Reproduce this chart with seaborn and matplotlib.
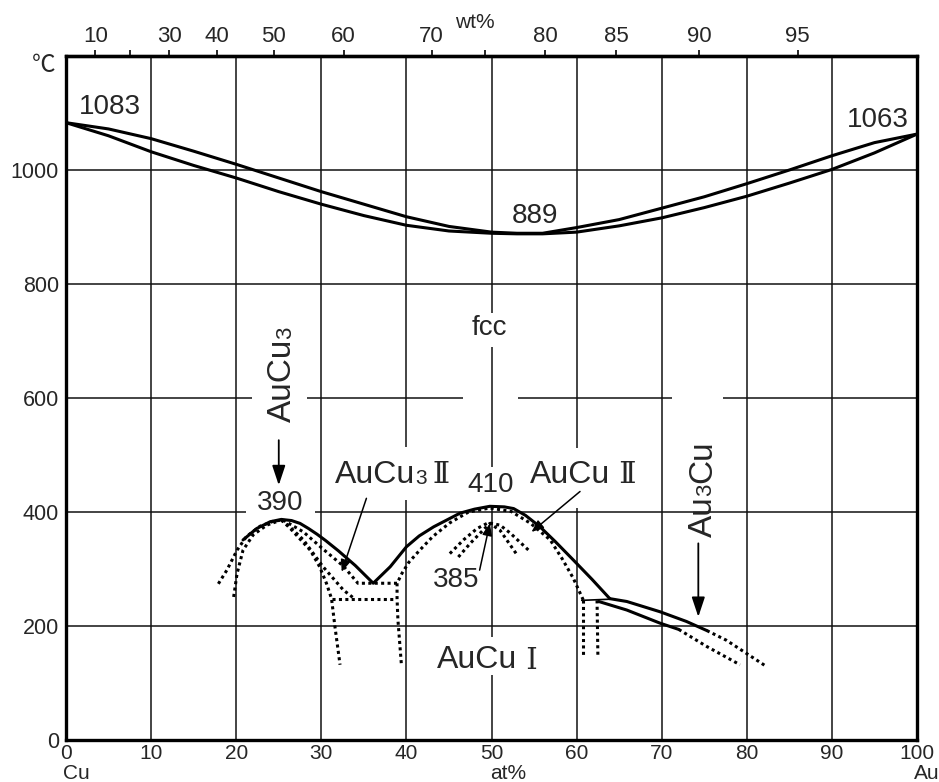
import numpy as np
import matplotlib.pyplot as plt
import seaborn as sns

# Au-Cu phase diagram, x = at% Au, y = temperature (C)
liq_x = [0, 5, 10, 15, 20, 25, 30, 35, 40, 45, 50, 53, 56, 60, 65, 70, 75, 80, 85, 90, 95, 100]
liq_t = [1083, 1072, 1055, 1033, 1010, 986, 962, 940, 918, 901, 891, 889, 889, 899, 913, 933, 953, 976, 1000, 1025, 1048, 1063]
sol_x = [0, 5, 10, 15, 20, 25, 30, 35, 40, 45, 50, 53, 56, 60, 65, 70, 75, 80, 85, 90, 95, 100]
sol_t = [1083, 1060, 1032, 1008, 986, 962, 940, 920, 903, 893, 889, 888, 888, 891, 902, 916, 934, 954, 977, 1001, 1030, 1063]

# ordering boundary (solid), AuCu3 dome + AuCu dome
ord_x = [20.8, 22.4, 24.0, 25.3, 26.5, 27.5, 28.5, 29.5, 30.5, 32.0, 34.0, 36.1, 38.1, 40.0, 41.5, 43.2, 46.3, 48.0, 49.8, 51.5, 52.6, 54.0, 55.7, 57.5, 59.6, 61.8, 63.9]
ord_t = [351, 371, 383, 387, 385, 380, 371, 361, 350, 332, 306, 275, 304, 339, 358, 374, 398, 405, 410, 409, 406, 394, 374, 348, 316, 282, 248]

# Au3Cu boundaries (solid part + dotted extension)
au3cu_up_x = [63.9, 65.9, 69.8, 72.9, 75.3]
au3cu_up_t = [248, 243, 225, 208, 192]
au3cu_up_dot_x = [75.3, 77.6, 82.3]
au3cu_up_dot_t = [192, 175, 129]
au3cu_lo_x = [62.6, 65.9, 69.8, 72.0]
au3cu_lo_t = [243, 228, 205, 194]
au3cu_lo_dot_x = [72.0, 75.3, 79.2]
au3cu_lo_dot_t = [194, 164, 132]
tie_x = [60.6, 63.9]
tie_t = [245, 247]

# dotted phase boundaries
dots = {
    "d1": ([17.9, 18.9, 20.1, 21.2, 22.8, 24.4, 25.5],
           [274, 298, 333, 357, 375, 384, 386]),
    "d2": ([19.7, 20.1, 20.8, 22.0, 23.6, 25.1],
           [251, 292, 333, 360, 377, 385]),
    "r1": ([25.5, 27.9, 30.2, 32.6, 34.3, 38.9, 39.5, 40.3, 41.5, 43.1, 45.1, 47.3, 49.8, 52.3, 54.6, 56.9, 58.3, 59.6, 60.8],
           [386, 365, 335, 305, 275, 275, 293, 312, 332, 357, 381, 400, 407, 401, 380, 351, 318, 284, 245]),
    "rb": ([25.3, 26.3, 27.9, 30.2, 32.6, 33.8],
           [386, 374, 351, 304, 263, 249]),
    "rc": ([25.3, 26.3, 28.7, 29.8, 30.6, 31.2, 31.6, 32.2],
           [386, 372, 333, 304, 275, 248, 199, 132]),
    "h248": ([31.2, 38.8], [248, 248]),
    "v39": ([38.9, 38.9, 39.0, 39.4], [275, 248, 211, 134]),
    "arcA": ([45.1, 46.7, 48.3, 49.6, 51.0, 52.2, 54.5],
             [327, 351, 371, 381, 377, 363, 331]),
    "arcB": ([46.1, 47.5, 49.0, 49.8, 51.0, 52.9],
             [321, 345, 368, 380, 368, 327]),
    "v61": ([60.8, 60.8], [245, 146]),
    "v62": ([62.4, 62.5], [245, 146]),
}

wt_ticks = [10, 20, 30, 40, 50, 60, 70, 75, 80, 85, 90, 95]
wt_labels = ["10", "", "30", "40", "50", "60", "70", "", "80", "85", "90", "95"]
at_ticks = list(range(0, 101, 10))
t_ticks = list(range(0, 1001, 200))

sns.set_style("white")
plt.rcParams["font.family"] = ["Liberation Sans", "Noto Sans CJK JP"]
SANS = ["Liberation Sans", "Noto Sans CJK JP"]
ROMAN = ["DejaVu Serif"]

fig = plt.figure(figsize=(9.39, 7.82), dpi=100)
ax = fig.add_axes([0.0703, 0.0537, 0.9063, 0.8747])
ax.set_xlim(0, 100)
ax.set_ylim(0, 1200)


def pieces(lo, hi, gaps):
    segs, start = [], lo
    for a, b in sorted(gaps):
        segs.append((start, a))
        start = b
    segs.append((start, hi))
    return segs


# grid with gaps left around labels
hgaps = {400: [(21.2, 29.3)], 600: [(21.8, 28.3), (46.6, 53.1), (71.2, 77.2)]}
vgaps = {40: [(421, 514)], 50: [(114, 181), (412, 479), (689, 749)], 60: [(407, 512)]}
for yv in [200, 400, 600, 800, 1000]:
    for a, b in pieces(0, 100, hgaps.get(yv, [])):
        ax.hlines(yv, a, b, color="#111111", lw=1.1, zorder=1)
for xv in range(10, 100, 10):
    for a, b in pieces(0, 1200, vgaps.get(xv, [])):
        ax.vlines(xv, a, b, color="#111111", lw=1.1, zorder=1)


def curve(xs, ts, dotted=False, lw=2.2):
    kw = dict(linestyle=(0, (1, 1.1)), dash_capstyle="butt") if dotted else dict(linestyle="-")
    sns.lineplot(x=xs, y=ts, sort=False, estimator=None, color="black", lw=lw,
                 ax=ax, zorder=3, **kw)


curve(liq_x, liq_t)
curve(sol_x, sol_t)
curve(ord_x, ord_t)
curve(au3cu_up_x, au3cu_up_t)
curve(au3cu_lo_x, au3cu_lo_t)
curve(au3cu_up_dot_x, au3cu_up_dot_t, dotted=True)
curve(au3cu_lo_dot_x, au3cu_lo_dot_t, dotted=True)
curve(tie_x, tie_t, lw=1.2)
for xs, ts in dots.values():
    curve(xs, ts, dotted=True)

# axes styling
for s in ax.spines.values():
    s.set_linewidth(2.4)
    s.set_color("black")
ax.set_xticks(at_ticks)
ax.set_yticks(t_ticks)
ax.tick_params(axis="x", length=0, pad=3, labelsize=15)
ax.tick_params(axis="y", length=0, pad=5, labelsize=15.5)


def wt2at(w):
    w = np.asarray(w, float)
    a, c = w / 196.97, (100 - w) / 63.55
    return 100 * a / np.maximum(a + c, 1e-9)


def at2wt(x):
    x = np.asarray(x, float)
    a, c = x * 196.97, (100 - x) * 63.55
    return 100 * a / np.maximum(a + c, 1e-9)


sec = ax.secondary_xaxis("top", functions=(at2wt, wt2at))
sec.set_xticks(wt_ticks, labels=wt_labels)
sec.tick_params(direction="out", length=4.5, width=1.4, labelsize=16, pad=2)
sec.spines["top"].set_linewidth(2.4)

ax.text(48.0, 1258, "wt%", fontsize=15, ha="center", va="center", clip_on=False)
ax.text(-2.6, 1182, "℃", fontsize=17, ha="center", va="center", clip_on=False)
ax.text(-0.3, -58, "Cu", fontsize=15, ha="left", va="center", clip_on=False)
ax.text(51.9, -58, "at%", fontsize=15, ha="center", va="center", clip_on=False)
ax.text(102.6, -58, "Au", fontsize=15, ha="right", va="center", clip_on=False)

for x, y, s in [(5.1, 1111, "1083"), (95.4, 1087, "1063"), (55.1, 919, "889"),
                (49.7, 723, "fcc"), (25.2, 416, "390"), (49.9, 447, "410"),
                (45.8, 281, "385")]:
    ax.text(x, y, s, fontsize=20, ha="center", va="center")


def chem(x, y, parts, rot=0, **kw):
    s, fs, fam = parts[0]
    t = ax.text(x, y, s, fontsize=fs, rotation=rot, family=fam, **kw)
    prev, pfs = t, fs
    for s, fs, fam in parts[1:]:
        d = 0.21 * (pfs - fs)
        if rot == 0:
            t = ax.annotate(s, xy=(1, 0), xycoords=prev, xytext=(0, d),
                            textcoords="offset points", ha="left", va="bottom",
                            fontsize=fs, family=fam)
        else:
            t = ax.annotate(s, xy=(1, 1), xycoords=prev, xytext=(-d, 0),
                            textcoords="offset points", ha="right", va="bottom",
                            rotation=90, fontsize=fs, family=fam)
        prev, pfs = t, fs


chem(31.6, 451, [("AuCu", 23, SANS), ("3", 15, SANS), ("\u2009Ⅱ", 21, ROMAN)], va="baseline", ha="left")
chem(54.5, 451, [("AuCu", 23, SANS), (" Ⅱ", 21, ROMAN)], va="baseline", ha="left")
chem(43.6, 126, [("AuCu", 23, SANS), (" Ⅰ", 21, ROMAN)], va="baseline", ha="left")
chem(27.3, 558, [("AuCu", 24, SANS), ("3", 16, SANS)], rot=90, ha="right", va="bottom")
chem(76.7, 357, [("Au", 24, SANS), ("3", 16, SANS), ("Cu", 24, SANS)], rot=90, ha="right", va="bottom")

big = dict(arrowstyle="-|>,head_length=0.6,head_width=0.2", color="black", lw=1.3,
           mutation_scale=20, shrinkA=0, shrinkB=0)
small = dict(arrowstyle="-|>,head_length=0.6,head_width=0.25", color="black", lw=1.1,
             mutation_scale=12, shrinkA=0, shrinkB=0)
ax.annotate("", xy=(25.0, 447), xytext=(25.0, 526), arrowprops=big)
ax.annotate("", xy=(74.3, 216), xytext=(74.3, 345), arrowprops=big)
ax.annotate("", xy=(32.4, 295), xytext=(35.3, 424), arrowprops=small)
ax.annotate("", xy=(54.7, 365), xytext=(60.4, 436), arrowprops=small)
ax.annotate("", xy=(49.8, 380), xytext=(48.6, 298), arrowprops=small)

fig.savefig("out.png", dpi=100)
